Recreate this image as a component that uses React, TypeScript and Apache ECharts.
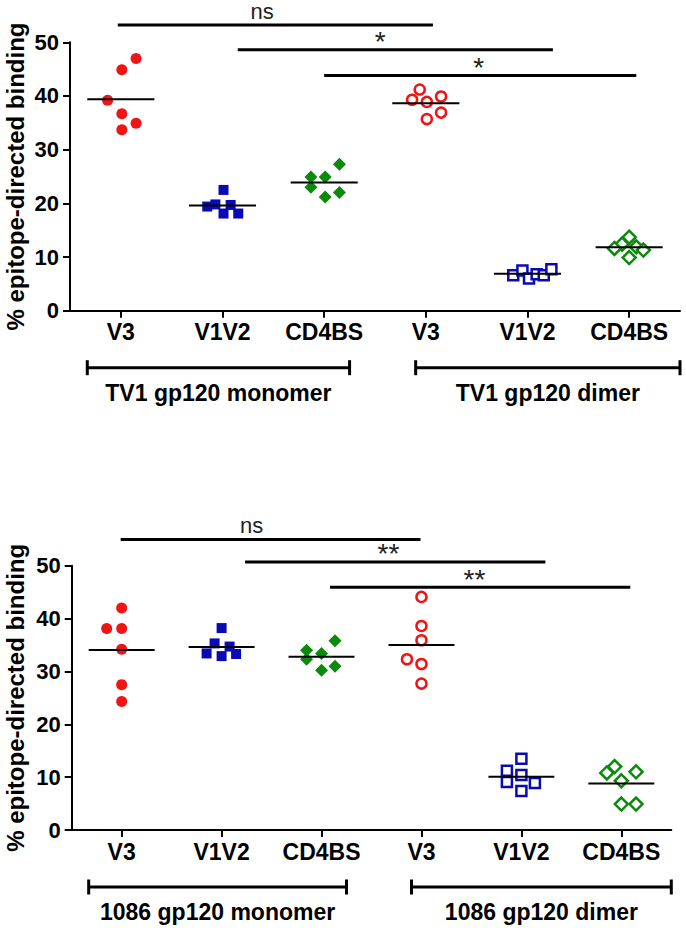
import React, { useEffect, useRef } from 'react';
import * as echarts from 'echarts';

// ---------- shared ----------
const categories = ['V3', 'V1V2', 'CD4BS', 'V3', 'V1V2', 'CD4BS'];
const yTitle = '% epitope-directed binding';
const groupSpans = [
  [-0.33, 2.25],
  [2.9, 5.5],
];

// ---------- TV1 (top) ----------
const tv1GroupLabels = ['TV1 gp120 monomer', 'TV1 gp120 dimer'];
const tv1MonoV3 = [47.0, 44.9, 39.2, 36.7, 34.9, 33.7];
const tv1MonoV1V2 = [22.5, 19.4, 19.8, 19.7, 18.1, 18.1];
const tv1MonoCD4BS = [24.9, 24.9, 27.3, 23.0, 21.2, 22.0];
const tv1DimerV3 = [41.2, 39.3, 38.9, 39.9, 36.9, 35.7];
const tv1DimerV1V2 = [6.6, 7.5, 6.0, 6.8, 6.6, 7.7];
const tv1DimerCD4BS = [13.7, 12.4, 11.6, 11.9, 11.3, 9.9];
const tv1Jitter = [
  [0.15, 0.01, -0.13, 0.01, 0.15, 0.01],
  [0.01, -0.15, -0.07, 0.08, 0.01, 0.155],
  [-0.13, 0.01, 0.15, -0.13, 0.01, 0.15],
  [-0.06, -0.135, 0.01, 0.15, 0.15, 0.01],
  [-0.14, -0.05, 0.015, 0.09, 0.16, 0.235],
  [0, -0.07, -0.145, 0.07, 0.14, 0],
];
const tv1SigFrom = [-0.03, 1.15, 2.0];
const tv1SigTo = [3.07, 4.25, 5.07];
const tv1SigLevel = [53.2, 48.6, 43.8];
const tv1SigTextX = [1.39, 2.55, 3.52];
const tv1SigText = ['ns', '*', '*'];

// ---------- 1086 (bottom) ----------
const b1086GroupLabels = ['1086 gp120 monomer', '1086 gp120 dimer'];
const b1086MonoV3 = [42.0, 38.1, 38.1, 34.2, 27.5, 24.3];
const b1086MonoV1V2 = [38.2, 35.3, 34.7, 33.4, 32.9, 33.3];
const b1086MonoCD4BS = [34.0, 33.4, 35.8, 32.3, 30.2, 31.0];
const b1086DimerV3 = [44.1, 38.6, 35.9, 32.3, 31.4, 27.7];
const b1086DimerV1V2 = [13.5, 11.2, 10.4, 9.1, 8.9, 7.4];
const b1086DimerCD4BS = [12.0, 10.8, 11.0, 9.3, 4.9, 4.9];
const b1086Jitter = [
  [0, -0.15, 0, 0, 0, 0],
  [0, -0.07, 0.08, -0.15, 0, 0.145],
  [-0.15, 0, 0.135, -0.15, 0, 0.135],
  [0, 0, 0, -0.145, 0, 0],
  [0, -0.145, 0, -0.145, 0.135, 0],
  [-0.067, -0.145, 0.147, 0, 0, 0.147],
];
const b1086SigFrom = [-0.01, 1.235, 2.085];
const b1086SigTo = [2.99, 4.24, 5.09];
const b1086SigLevel = [54.95, 50.7, 45.9];
const b1086SigTextX = [1.3, 2.67, 3.53];
const b1086SigText = ['ns', '**', '**'];

// ---------- styling ----------
const FONT = "'Liberation Sans', Arial, Helvetica, sans-serif";
const RED = '#f01414';
const BLUE = '#0a0ab4';
const GREEN = '#0a8a0a';
const markerStyles = [
  { symbol: 'circle', size: 11, color: RED, open: false },
  { symbol: 'rect', size: 10, color: BLUE, open: false },
  { symbol: 'diamond', size: 13, color: GREEN, open: false },
  { symbol: 'circle', size: 10, color: RED, open: true },
  { symbol: 'rect', size: 10, color: BLUE, open: true },
  { symbol: 'diamond', size: 13, color: GREEN, open: true },
];

const mean = (a: number[]) => a.reduce((s, v) => s + v, 0) / a.length;

function buildPanel(
  gridIndex: number,
  groups: number[][],
  jitter: number[][],
  sigFrom: number[],
  sigTo: number[],
  sigLevel: number[],
  sigTextX: number[],
  sigText: string[],
  groupLabels: string[]
) {
  const valAxis = gridIndex * 2 + 1;
  const series: any[] = [];
  groups.forEach((vals, g) => {
    const m = markerStyles[g];
    series.push({
      type: 'scatter',
      xAxisIndex: valAxis,
      yAxisIndex: gridIndex,
      symbol: m.symbol,
      symbolSize: m.size,
      itemStyle: m.open
        ? { color: '#ffffff', borderColor: m.color, borderWidth: 2.5, opacity: 1 }
        : { color: m.color, opacity: 1 },
      data: vals.map((v, i) => [g + jitter[g][i], v]),
      z: 3,
    });
  });
  // mean lines
  series.push({
    type: 'custom',
    xAxisIndex: valAxis,
    yAxisIndex: gridIndex,
    clip: false,
    z: 5,
    data: groups.map((vals, g) => [g, mean(vals)]),
    renderItem: (params: any, api: any) => {
      const p1 = api.coord([api.value(0) - 0.33, api.value(1)]);
      const p2 = api.coord([api.value(0) + 0.33, api.value(1)]);
      return {
        type: 'line',
        shape: { x1: p1[0], y1: p1[1], x2: p2[0], y2: p2[1] },
        style: { stroke: '#000', lineWidth: 2 },
      };
    },
  });
  // significance bars
  series.push({
    type: 'custom',
    xAxisIndex: valAxis,
    yAxisIndex: gridIndex,
    clip: false,
    z: 5,
    data: sigFrom.map((f, i) => [f, sigLevel[i], sigTo[i], sigTextX[i]]),
    renderItem: (params: any, api: any) => {
      const y = api.value(1);
      const a = api.coord([api.value(0), y]);
      const b = api.coord([api.value(2), y]);
      const t = api.coord([api.value(3), y]);
      const txt = sigText[params.dataIndex];
      const star = txt.indexOf('*') >= 0;
      return {
        type: 'group',
        children: [
          {
            type: 'line',
            shape: { x1: a[0], y1: a[1], x2: b[0], y2: b[1] },
            style: { stroke: '#000', lineWidth: 3 },
          },
          {
            type: 'text',
            x: t[0],
            y: star ? t[1] + 6 : t[1] - 3,
            style: {
              text: txt,
              fontSize: star ? 28 : 22,
              fontFamily: FONT,
              fill: '#222',
              align: 'center',
              verticalAlign: 'bottom',
            },
          },
        ],
      };
    },
  });
  // group brackets
  series.push({
    type: 'custom',
    xAxisIndex: valAxis,
    yAxisIndex: gridIndex,
    clip: false,
    z: 5,
    data: groupSpans.map((s) => [s[0], 0, s[1]]),
    renderItem: (params: any, api: any) => {
      const s = api.coord([api.value(0), 0]);
      const e = api.coord([api.value(2), 0]);
      const y = s[1] + 57;
      return {
        type: 'group',
        children: [
          { type: 'line', shape: { x1: s[0], y1: y, x2: e[0], y2: y }, style: { stroke: '#000', lineWidth: 3 } },
          { type: 'line', shape: { x1: s[0], y1: y - 7.5, x2: s[0], y2: y + 7.5 }, style: { stroke: '#000', lineWidth: 3 } },
          { type: 'line', shape: { x1: e[0], y1: y - 7.5, x2: e[0], y2: y + 7.5 }, style: { stroke: '#000', lineWidth: 3 } },
          {
            type: 'text',
            x: (s[0] + e[0]) / 2,
            y: y + 25,
            style: {
              text: groupLabels[params.dataIndex],
              fontSize: 23,
              fontWeight: 'bold',
              fontFamily: FONT,
              fill: '#000',
              align: 'center',
              verticalAlign: 'middle',
            },
          },
        ],
      };
    },
  });
  return series;
}

function catAxisOpt(gridIndex: number) {
  return {
    gridIndex,
    type: 'category',
    data: categories,
    boundaryGap: true,
    axisLine: { show: true, onZero: false, lineStyle: { color: '#000', width: 2 } },
    axisTick: { show: true, alignWithLabel: true, length: 7, lineStyle: { color: '#000', width: 2 } },
    axisLabel: { interval: 0, margin: 10, fontSize: 23, fontWeight: 'bold', color: '#000', fontFamily: FONT },
    splitLine: { show: false },
  };
}

function valXAxisOpt(gridIndex: number) {
  return { gridIndex, type: 'value', min: -0.5, max: 5.5, show: false };
}

function yAxisOpt(gridIndex: number, gap: number) {
  return {
    gridIndex,
    type: 'value',
    min: 0,
    max: 50,
    interval: 10,
    name: yTitle,
    nameLocation: 'middle',
    nameGap: gap,
    nameMoveOverlap: false,
    nameTextStyle: { fontSize: 24, fontWeight: 'bold', color: '#000', fontFamily: FONT },
    axisLine: { show: true, onZero: false, lineStyle: { color: '#000', width: 2 } },
    axisTick: { show: true, length: 7, lineStyle: { color: '#000', width: 2 } },
    axisLabel: { margin: 11, fontSize: 22, fontWeight: 'bold', color: '#000', fontFamily: FONT },
    splitLine: { show: false },
  };
}

export default function App() {
  const ref = useRef<HTMLDivElement>(null);
  useEffect(() => {
    if (!ref.current) return;
    const chart = echarts.init(ref.current, undefined, { renderer: 'svg' });
    const series = [
      ...buildPanel(
        0,
        [tv1MonoV3, tv1MonoV1V2, tv1MonoCD4BS, tv1DimerV3, tv1DimerV1V2, tv1DimerCD4BS],
        tv1Jitter,
        tv1SigFrom,
        tv1SigTo,
        tv1SigLevel,
        tv1SigTextX,
        tv1SigText,
        tv1GroupLabels
      ),
      ...buildPanel(
        1,
        [b1086MonoV3, b1086MonoV1V2, b1086MonoCD4BS, b1086DimerV3, b1086DimerV1V2, b1086DimerCD4BS],
        b1086Jitter,
        b1086SigFrom,
        b1086SigTo,
        b1086SigLevel,
        b1086SigTextX,
        b1086SigText,
        b1086GroupLabels
      ),
    ];
    chart.setOption({
      animation: false,
      backgroundColor: '#ffffff',
      textStyle: { fontFamily: FONT },
      grid: [
        { left: 70, top: 42.3, width: 610, height: 268.4, outerBoundsMode: 'none', containLabel: false },
        { left: 71.7, top: 565.7, width: 599.6, height: 264.3, outerBoundsMode: 'none', containLabel: false },
      ],
      xAxis: [catAxisOpt(0), valXAxisOpt(0), catAxisOpt(1), valXAxisOpt(1)],
      yAxis: [yAxisOpt(0, 43), yAxisOpt(1, 44)],
      series,
    });
    return () => chart.dispose();
  }, []);
  return (
    <div
      ref={ref}
      style={{ position: 'absolute', left: 0, top: 0, width: 686, height: 928 }}
    />
  );
}
